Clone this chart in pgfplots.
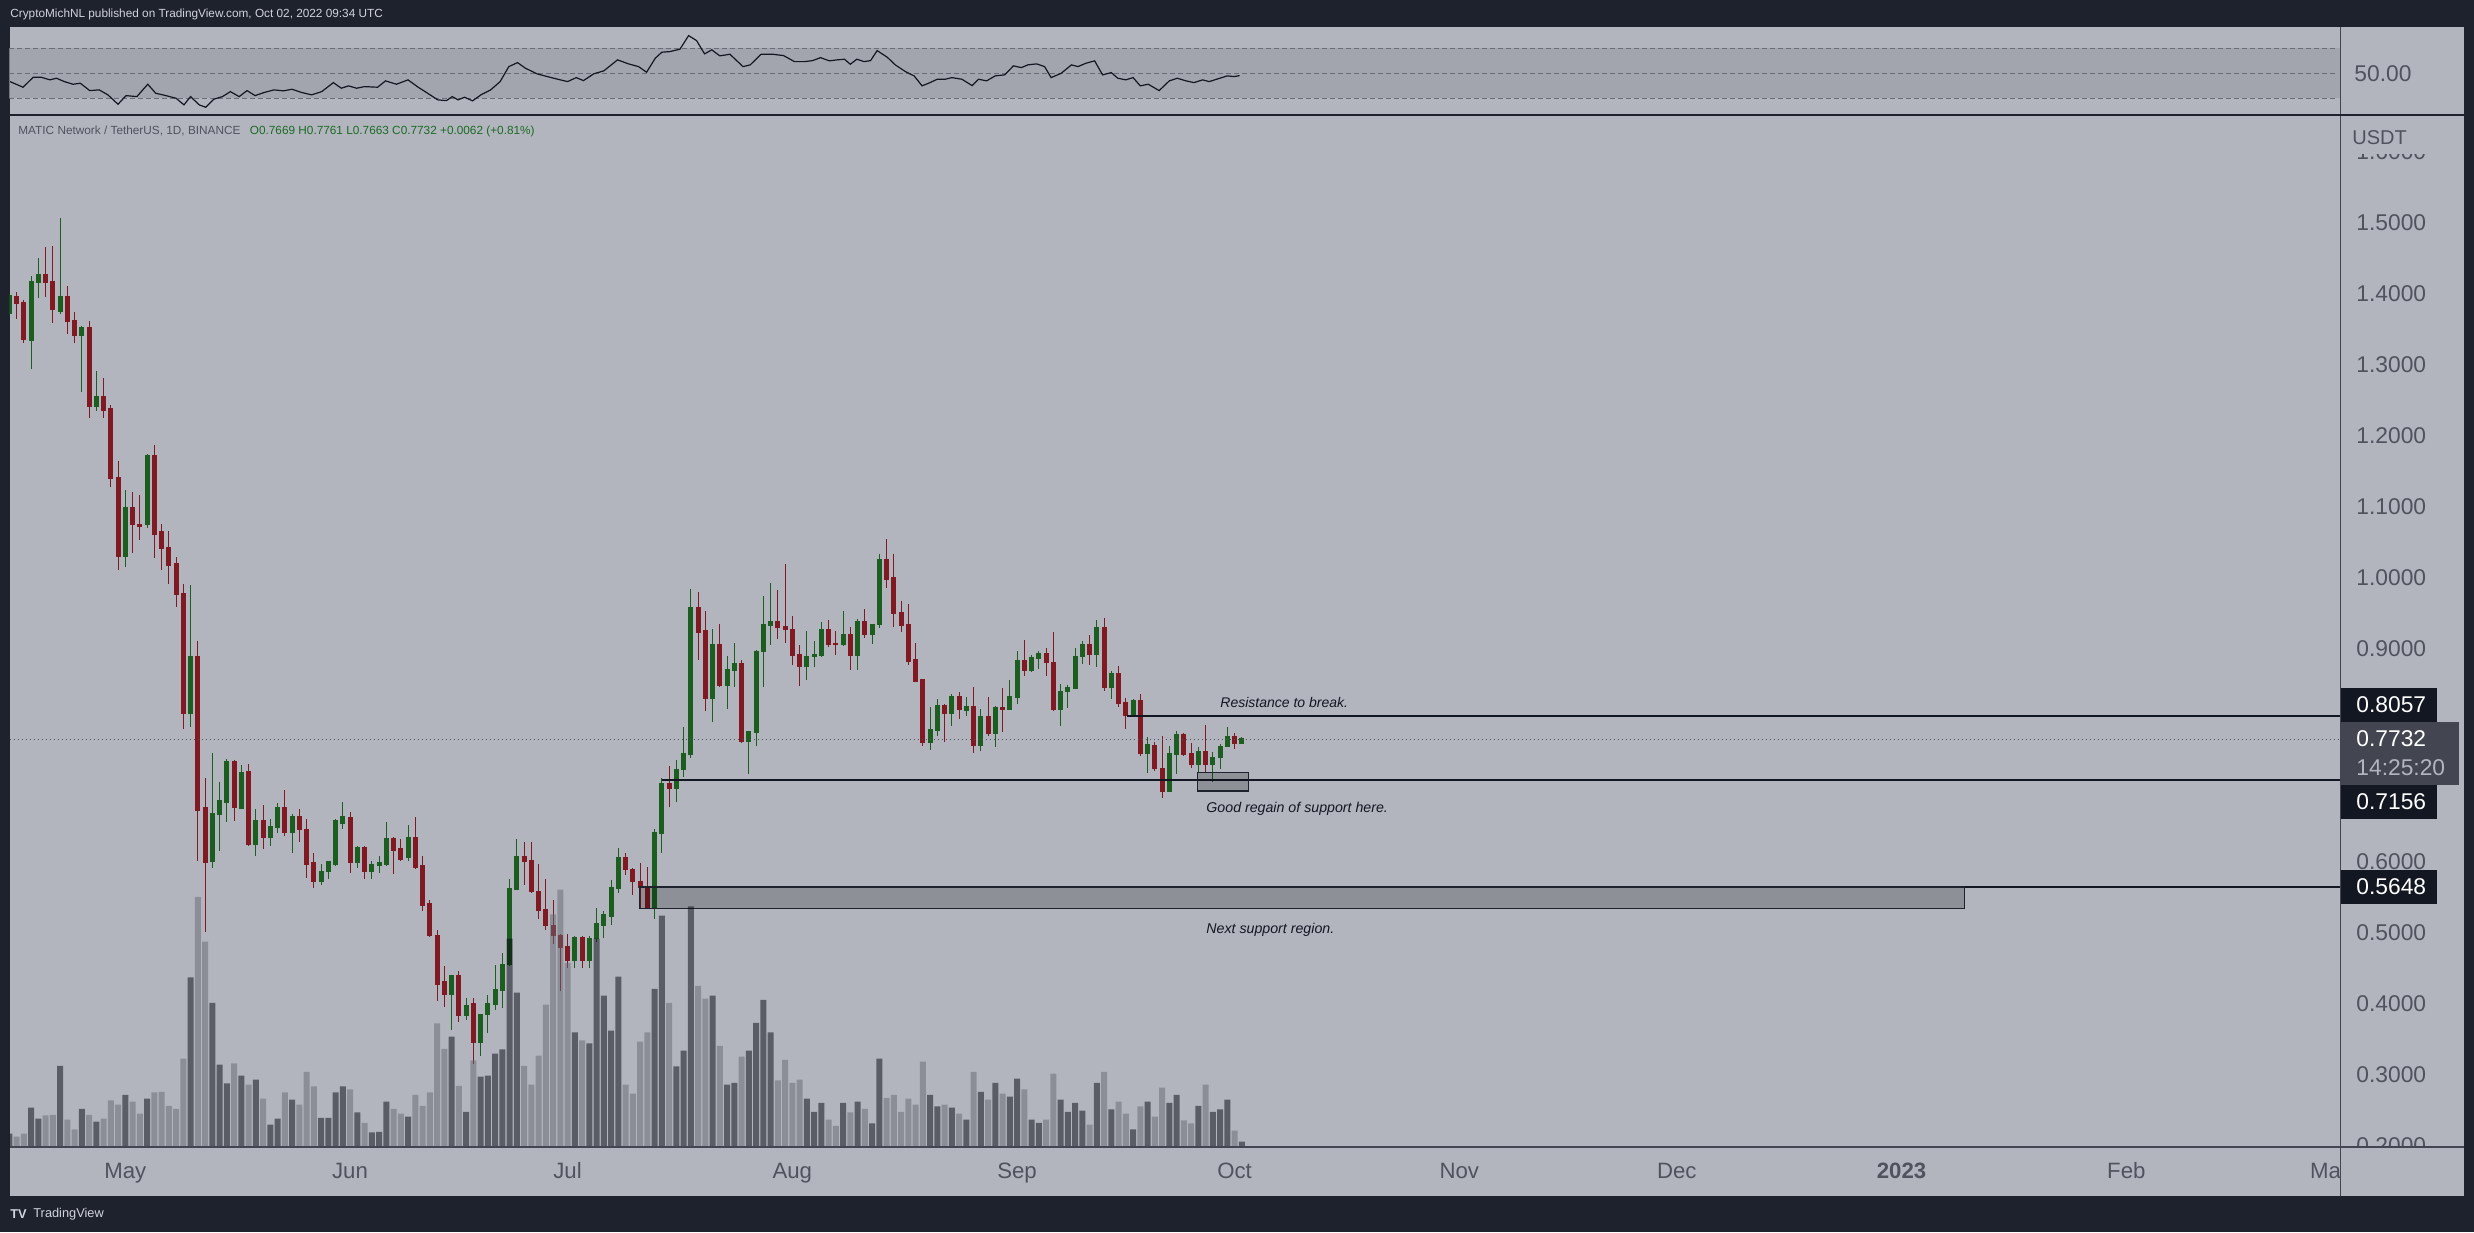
\documentclass[border=0pt]{standalone}
\usepackage{pgfplots}
\pgfplotsset{compat=1.18}
\usepackage{pgfplotstable}
\usepackage{fontspec}
\setmainfont{Liberation Sans}
\definecolor{frame}{HTML}{1E222D}
\definecolor{bg}{HTML}{B2B5BE}
\definecolor{band}{HTML}{A2A5AE}
\definecolor{cgreen}{HTML}{1B5E20}
\definecolor{cred}{HTML}{801922}
\definecolor{voldk}{HTML}{04070F}
\definecolor{vollt}{HTML}{666972}
\definecolor{axtext}{HTML}{50535E}
\definecolor{sep}{HTML}{434651}
\definecolor{ink}{HTML}{131722}
\definecolor{hdr}{HTML}{D1D4DC}
\definecolor{lgreen}{HTML}{1B6B24}
\definecolor{dashc}{HTML}{6A6D78}

\pgfplotsset{/pgf/number format/assume math mode=true}

\pgfplotstableread{
i o h l c v
0 1.373 1.400 1.371 1.398 22
1 1.397 1.403 1.365 1.387 17
2 1.388 1.391 1.331 1.336 22
3 1.334 1.426 1.294 1.417 65
4 1.416 1.450 1.394 1.427 47
5 1.427 1.466 1.396 1.416 52
6 1.417 1.468 1.359 1.378 53
7 1.375 1.507 1.372 1.397 134
8 1.397 1.411 1.343 1.362 45
9 1.362 1.375 1.331 1.342 29
10 1.342 1.355 1.262 1.353 63
11 1.353 1.362 1.226 1.242 53
12 1.242 1.292 1.235 1.256 42
13 1.256 1.281 1.226 1.236 47
14 1.238 1.244 1.128 1.140 77
15 1.141 1.165 1.011 1.031 70
16 1.031 1.124 1.015 1.099 86
17 1.099 1.121 1.035 1.075 75
18 1.075 1.117 1.053 1.073 55
19 1.075 1.174 1.071 1.173 80
20 1.173 1.188 1.028 1.062 90
21 1.065 1.076 1.011 1.041 91
22 1.043 1.066 0.991 1.017 68
23 1.020 1.030 0.959 0.977 63
24 0.978 0.991 0.788 0.809 146
25 0.809 0.990 0.790 0.890 280
26 0.890 0.911 0.602 0.673 413
27 0.676 0.719 0.502 0.599 339
28 0.601 0.753 0.591 0.668 238
29 0.667 0.712 0.616 0.686 136
30 0.684 0.745 0.656 0.742 105
31 0.742 0.743 0.658 0.677 138
32 0.676 0.736 0.675 0.726 118
33 0.728 0.738 0.623 0.625 103
34 0.625 0.675 0.609 0.659 111
35 0.659 0.680 0.618 0.634 80
36 0.634 0.660 0.622 0.650 37
37 0.649 0.683 0.641 0.676 47
38 0.676 0.702 0.637 0.641 90
39 0.641 0.668 0.613 0.664 78
40 0.664 0.675 0.628 0.646 70
41 0.646 0.660 0.577 0.597 124
42 0.599 0.612 0.564 0.573 100
43 0.573 0.597 0.567 0.587 48
44 0.587 0.602 0.576 0.600 48
45 0.597 0.660 0.595 0.658 90
46 0.655 0.684 0.646 0.664 100
47 0.662 0.671 0.584 0.599 95
48 0.599 0.623 0.591 0.620 57
49 0.620 0.622 0.576 0.587 40
50 0.587 0.602 0.576 0.596 24
51 0.595 0.608 0.584 0.599 25
52 0.597 0.657 0.595 0.633 75
53 0.633 0.635 0.583 0.616 63
54 0.619 0.633 0.602 0.604 55
55 0.606 0.652 0.602 0.634 50
56 0.634 0.664 0.590 0.593 86
57 0.595 0.608 0.531 0.539 68
58 0.541 0.547 0.495 0.496 90
59 0.496 0.504 0.404 0.428 204
60 0.431 0.454 0.396 0.414 162
61 0.414 0.441 0.364 0.440 182
62 0.440 0.447 0.375 0.384 101
63 0.384 0.408 0.378 0.398 58
64 0.400 0.408 0.316 0.346 143
65 0.346 0.385 0.327 0.385 116
66 0.385 0.412 0.359 0.400 118
67 0.399 0.455 0.392 0.420 154
68 0.419 0.472 0.395 0.455 161
69 0.456 0.576 0.454 0.563 344
70 0.562 0.632 0.561 0.608 255
71 0.608 0.628 0.567 0.601 134
72 0.602 0.628 0.557 0.559 103
73 0.559 0.597 0.520 0.532 151
74 0.533 0.576 0.504 0.511 235
75 0.511 0.546 0.484 0.496 384
76 0.497 0.498 0.419 0.479 425
77 0.481 0.499 0.450 0.461 304
78 0.461 0.496 0.450 0.494 189
79 0.494 0.496 0.450 0.461 176
80 0.461 0.496 0.451 0.492 171
81 0.492 0.535 0.487 0.513 344
82 0.511 0.531 0.493 0.526 250
83 0.524 0.574 0.511 0.564 192
84 0.563 0.620 0.556 0.606 281
85 0.606 0.612 0.582 0.589 103
86 0.590 0.591 0.553 0.572 88
87 0.572 0.599 0.534 0.564 174
88 0.565 0.593 0.535 0.536 189
89 0.535 0.646 0.520 0.641 261
90 0.640 0.718 0.613 0.710 382
91 0.710 0.735 0.677 0.703 238
92 0.703 0.744 0.684 0.730 133
93 0.730 0.790 0.720 0.753 159
94 0.752 0.984 0.746 0.959 397
95 0.959 0.980 0.884 0.924 266
96 0.926 0.953 0.812 0.830 245
97 0.830 0.928 0.797 0.906 250
98 0.906 0.935 0.846 0.849 167
99 0.849 0.890 0.815 0.871 103
100 0.870 0.909 0.846 0.879 106
101 0.879 0.885 0.768 0.770 149
102 0.770 0.785 0.724 0.784 159
103 0.782 0.898 0.763 0.897 205
104 0.896 0.975 0.846 0.934 243
105 0.933 0.993 0.905 0.938 189
106 0.938 0.983 0.914 0.930 110
107 0.931 1.020 0.909 0.927 144
108 0.928 0.946 0.878 0.891 106
109 0.892 0.905 0.848 0.875 111
110 0.875 0.926 0.857 0.890 80
111 0.889 0.911 0.875 0.892 58
112 0.891 0.938 0.889 0.928 73
113 0.928 0.941 0.903 0.907 45
114 0.908 0.926 0.892 0.906 35
115 0.906 0.953 0.904 0.921 73
116 0.921 0.931 0.870 0.891 57
117 0.891 0.942 0.871 0.938 75
118 0.938 0.957 0.915 0.920 63
119 0.920 0.935 0.907 0.934 39
120 0.934 1.034 0.930 1.026 146
121 1.026 1.055 0.986 0.998 81
122 1.000 1.034 0.931 0.950 86
123 0.951 0.968 0.924 0.933 58
124 0.934 0.964 0.877 0.883 80
125 0.885 0.909 0.854 0.855 70
126 0.857 0.858 0.764 0.769 141
127 0.769 0.818 0.758 0.786 86
128 0.785 0.830 0.778 0.821 67
129 0.821 0.822 0.769 0.809 70
130 0.809 0.837 0.792 0.833 65
131 0.833 0.839 0.802 0.815 55
132 0.814 0.833 0.805 0.819 45
133 0.819 0.846 0.754 0.764 124
134 0.764 0.816 0.756 0.805 91
135 0.805 0.833 0.777 0.781 78
136 0.781 0.820 0.762 0.818 106
137 0.818 0.845 0.783 0.815 88
138 0.815 0.856 0.814 0.833 83
139 0.832 0.897 0.822 0.884 113
140 0.884 0.913 0.862 0.870 95
141 0.870 0.891 0.867 0.888 45
142 0.887 0.897 0.872 0.894 40
143 0.894 0.901 0.862 0.881 45
144 0.881 0.924 0.813 0.815 121
145 0.815 0.850 0.792 0.840 78
146 0.840 0.849 0.817 0.846 58
147 0.845 0.901 0.843 0.890 73
148 0.890 0.911 0.879 0.906 60
149 0.906 0.919 0.878 0.892 37
150 0.892 0.941 0.874 0.930 106
151 0.930 0.944 0.841 0.846 124
152 0.846 0.869 0.830 0.866 62
153 0.866 0.876 0.819 0.824 75
154 0.825 0.831 0.788 0.806 55
155 0.805 0.830 0.804 0.827 29
156 0.827 0.836 0.749 0.753 67
157 0.753 0.776 0.726 0.765 75
158 0.764 0.769 0.728 0.732 50
159 0.732 0.777 0.690 0.700 98
160 0.699 0.764 0.698 0.753 73
161 0.751 0.785 0.724 0.779 86
162 0.779 0.782 0.749 0.751 44
163 0.753 0.767 0.732 0.738 39
164 0.738 0.762 0.727 0.755 68
165 0.755 0.793 0.727 0.738 103
166 0.738 0.755 0.713 0.747 58
167 0.747 0.766 0.731 0.763 62
168 0.763 0.790 0.762 0.777 78
169 0.777 0.781 0.759 0.767 27
170 0.7669 0.7761 0.7663 0.7732 9
}\candles

\pgfplotstableread{
x r
0.1 43.3
1.9 38.8
3.3 46.8
4.4 46.8
5.6 44.7
6.5 46.0
7.6 43.3
8.8 41.2
9.8 42.0
11.1 36.1
12.4 36.7
13.6 32.7
15.0 25.2
16.1 32.1
17.6 31.3
19.1 41.2
20.2 34.0
21.6 32.1
23.0 30.0
24.1 24.7
25.0 31.3
26.2 24.7
27.1 22.8
28.2 29.2
29.4 31.3
30.5 35.3
31.7 31.3
32.8 36.1
33.9 32.1
35.1 34.5
36.5 36.7
37.8 35.9
39.0 37.2
40.4 34.5
41.7 32.7
43.1 35.3
44.7 42.5
45.8 38.0
46.8 39.9
47.9 38.0
49.0 39.3
50.8 38.8
51.9 43.9
53.4 41.2
55.0 44.7
56.4 38.8
57.7 34.0
59.1 28.7
60.3 28.1
61.1 31.3
61.9 28.7
62.8 30.8
63.9 27.9
65.1 32.9
66.4 36.7
67.7 43.3
68.9 55.3
70.1 58.5
71.2 54.0
72.8 49.5
75.1 46.0
77.0 43.3
78.2 46.5
79.2 44.1
80.6 49.5
82.0 51.9
83.9 60.7
85.4 57.5
86.8 55.3
87.9 50.8
89.1 62.0
90.0 66.8
91.1 67.3
92.5 69.2
93.7 80.1
94.8 76.1
95.9 65.5
96.9 68.7
98.0 63.9
99.4 65.2
101.2 55.3
102.2 56.7
103.7 65.2
105.3 65.2
106.8 64.1
108.3 59.3
109.7 59.3
110.8 60.1
111.9 62.5
113.1 59.9
114.2 60.7
115.2 61.2
116.0 57.2
116.9 61.2
117.9 59.3
118.8 60.1
119.7 68.1
121.1 62.8
122.2 56.7
123.6 51.3
124.8 47.9
125.9 39.9
126.8 42.0
128.0 45.2
129.1 45.2
130.0 46.5
131.4 45.2
132.8 40.1
133.7 45.2
134.8 43.9
136.0 47.9
137.3 48.7
138.5 55.9
139.6 54.5
140.5 56.7
141.7 57.5
142.8 55.3
143.7 46.5
145.1 50.0
146.5 56.7
147.4 55.3
148.5 58.0
149.7 59.9
150.8 48.7
152.0 50.5
152.9 46.0
154.0 44.7
155.0 46.5
156.0 39.9
157.1 41.2
158.6 36.1
160.0 43.9
161.1 46.0
162.3 43.9
163.4 42.5
164.6 44.7
165.5 43.3
166.8 45.7
168.0 47.9
168.9 47.3
169.7 48.1
}\rsi

\begin{document}
\begin{tikzpicture}
% frame and panel backgrounds
\fill[frame] (0pt,0pt) rectangle (1237pt,616pt);
\fill[bg] (4.75pt,18pt) rectangle (1232pt,602.5pt);

% ---------- RSI panel ----------
\begin{axis}[
  at={(4.75pt,558.5pt)}, anchor=south west,
  width=1165.5pt, height=44pt, scale only axis,
  xmin=0.03, xmax=321.54, ymin=16.6, ymax=87.0,
  hide axis,
]
\fill[band] (axis cs:0.03,30) rectangle (axis cs:321.54,70);
\draw[dashc, line width=0.5pt, dash pattern=on 2.5pt off 1.5pt] (axis cs:0.03,70) -- (axis cs:320.8,70);
\draw[dashc, line width=0.5pt, dash pattern=on 2.5pt off 1.5pt] (axis cs:0.03,50) -- (axis cs:320.8,50);
\draw[dashc, line width=0.5pt, dash pattern=on 2.5pt off 1.5pt] (axis cs:0.03,30) -- (axis cs:320.8,30);
\addplot[ink, line width=0.6pt, mark=none] table[x=x, y=r] \rsi;
\end{axis}

% ---------- main price panel ----------
\begin{axis}[
  at={(4.75pt,42.5pt)}, anchor=south west,
  width=1165.5pt, height=515.5pt, scale only axis,
  xmin=0.03, xmax=321.54, ymin=0.1986, ymax=1.6507,
  axis line style={draw=none},
  tick style={draw=none}, major tick length=0pt,
  xtick={16,47,77,108,139,169,200,230,261,292,320},
  xticklabels={May,Jun,Jul,Aug,Sep,Oct,Nov,Dec,\textbf{2023},Feb,Mar},
  x tick label style={anchor=base, yshift=-15.9pt, inner sep=0pt, font=\fontsize{11.1}{13}\selectfont, text=axtext},
  ytick={0.2,0.3,0.4,0.5,0.6,0.9,1.0,1.1,1.2,1.3,1.4,1.5,1.6},
  yticklabel pos=right,
  yticklabel={\pgfmathprintnumber[fixed,fixed zerofill,precision=4]{\tick}},
  y tick label style={anchor=west, inner sep=0pt, xshift=7.75pt, font=\fontsize{11.4}{13}\selectfont, text=axtext},
]
% wicks (rising candles green, falling red; the other kind is moved off-axis)
\addplot[draw=none, mark=none, forget plot,
  error bars/.cd, y dir=both, y explicit, error mark=none,
  error bar style={draw=cgreen, line width=0.5pt}]
  table[x=i, y expr={\thisrow{c}>=\thisrow{o} ? (\thisrow{h}+\thisrow{l})/2 : -0.5}, y error expr={(\thisrow{h}-\thisrow{l})/2}] \candles;
\addplot[draw=none, mark=none, forget plot,
  error bars/.cd, y dir=both, y explicit, error mark=none,
  error bar style={draw=cred, line width=0.5pt}]
  table[x=i, y expr={\thisrow{c}<\thisrow{o} ? (\thisrow{h}+\thisrow{l})/2 : -0.5}, y error expr={(\thisrow{h}-\thisrow{l})/2}] \candles;
% bodies
\addplot[draw=none, mark=none, forget plot,
  error bars/.cd, y dir=both, y explicit, error mark=none,
  error bar style={draw=cgreen, line width=2.5pt}]
  table[x=i, y expr={\thisrow{c}>=\thisrow{o} ? (\thisrow{o}+\thisrow{c})/2 : -0.5}, y error expr={abs(\thisrow{c}-\thisrow{o})/2+0.0008}] \candles;
\addplot[draw=none, mark=none, forget plot,
  error bars/.cd, y dir=both, y explicit, error mark=none,
  error bar style={draw=cred, line width=2.5pt}]
  table[x=i, y expr={\thisrow{c}<\thisrow{o} ? (\thisrow{o}+\thisrow{c})/2 : -0.5}, y error expr={abs(\thisrow{c}-\thisrow{o})/2+0.0008}] \candles;
% drawings
\draw[ink, line width=0.6pt] (axis cs:154.1,0.8057) -- (axis cs:321.54,0.8057);
\draw[ink, line width=0.6pt] (axis cs:90,0.7156) -- (axis cs:321.54,0.7156);
\draw[draw=frame, line width=0.75pt, fill=black, fill opacity=0.2] (axis cs:86.9,0.5648) rectangle (axis cs:269.7,0.5343);
\draw[ink, line width=0.6pt] (axis cs:269.7,0.5648) -- (axis cs:321.54,0.5648);
\draw[draw=frame, line width=0.75pt, fill=black, fill opacity=0.2] (axis cs:163.9,0.7263) rectangle (axis cs:170.9,0.6998);
\draw[axtext, line width=0.5pt, dash pattern=on 0.5pt off 1.5pt] (axis cs:0.03,0.7732) -- (axis cs:321.54,0.7732);
\end{axis}

% ---------- volume overlay ----------
\begin{axis}[
  at={(4.75pt,42.5pt)}, anchor=south west,
  width=1165.5pt, height=515.5pt, scale only axis,
  xmin=0.03, xmax=321.54, ymin=0, ymax=1701.7,
  hide axis,
]
\addplot[ybar, bar width=3pt, bar shift=0pt, draw=none, fill=voldk, fill opacity=0.5]
  table[x=i, y expr={\thisrow{c}>=\thisrow{o} ? \thisrow{v} : 0}] \candles;
\addplot[ybar, bar width=3pt, bar shift=0pt, draw=none, fill=vollt, fill opacity=0.5]
  table[x=i, y expr={\thisrow{c}<\thisrow{o} ? \thisrow{v} : 0}] \candles;
\end{axis}

% price column cover in date row and under the unit label, separators
\fill[bg] (1170.6pt,18pt) rectangle (1232pt,42.3pt);
\fill[bg] (1170.6pt,539pt) rectangle (1232pt,558pt);
\draw[sep, line width=0.6pt] (1170.4pt,18pt) -- (1170.4pt,602.5pt);
\draw[sep, line width=0.6pt] (4.75pt,42.5pt) -- (1232pt,42.5pt);
\draw[frame, line width=1pt] (4.75pt,558.25pt) -- (1232pt,558.25pt);

% axis texts
\node[anchor=west, inner sep=0pt, text=axtext, font=\fontsize{10}{12}\selectfont] at (1176pt,547pt) {USDT};
\node[anchor=west, inner sep=0pt, text=axtext, font=\fontsize{11.4}{13}\selectfont] at (1177pt,579.4pt) {50.00};

% price label boxes
\fill[ink] (1170.6pt,255pt) rectangle (1218.5pt,272pt);
\node[anchor=west, inner sep=0pt, text=white, font=\fontsize{11.4}{13}\selectfont] at (1178pt,263.5pt) {0.8057};
\fill[sep] (1170.6pt,223.5pt) rectangle (1229.5pt,255pt);
\node[anchor=west, inner sep=0pt, text=white, font=\fontsize{11.4}{13}\selectfont] at (1178pt,246.5pt) {0.7732};
\node[anchor=west, inner sep=0pt, text=bg, font=\fontsize{11.4}{13}\selectfont] at (1178pt,232pt) {14:25:20};
\fill[ink] (1170.6pt,206.5pt) rectangle (1218.5pt,223.5pt);
\node[anchor=west, inner sep=0pt, text=white, font=\fontsize{11.4}{13}\selectfont] at (1178pt,215pt) {0.7156};
\fill[ink] (1170.6pt,164pt) rectangle (1218.5pt,181pt);
\node[anchor=west, inner sep=0pt, text=white, font=\fontsize{11.4}{13}\selectfont] at (1178pt,172.5pt) {0.5648};

% annotations
\node[anchor=west, inner sep=0pt, text=ink, font=\itshape\fontsize{7}{8}\selectfont] at (610pt,264.5pt) {Resistance to break.};
\node[anchor=west, inner sep=0pt, text=ink, font=\itshape\fontsize{7.1}{8}\selectfont] at (603pt,211.5pt) {Good regain of support here.};
\node[anchor=west, inner sep=0pt, text=ink, font=\itshape\fontsize{7.1}{8}\selectfont] at (603pt,151pt) {Next support region.};

% header / legend / footer
\node[anchor=west, inner sep=0pt, text=hdr, font=\fontsize{5.9}{7}\selectfont] at (5pt,608.8pt) {CryptoMichNL published on TradingView.com, Oct 02, 2022 09:34 UTC};
\node[anchor=west, inner sep=0pt, font=\fontsize{5.9}{7}\selectfont] at (9pt,550.5pt) {\textcolor{axtext}{MATIC Network / TetherUS, 1D, BINANCE}\hspace{0.8em}\textcolor{lgreen}{O0.7669 H0.7761 L0.7663 C0.7732 +0.0062 (+0.81\%)}};
\node[anchor=west, inner sep=0pt, text=hdr, font=\bfseries\fontsize{6.4}{7}\selectfont] at (5pt,9pt) {TV};
\node[anchor=west, inner sep=0pt, text=hdr, font=\fontsize{6.4}{7}\selectfont] at (16.5pt,9pt) {TradingView};

\pgfresetboundingbox
\useasboundingbox (0pt,0pt) rectangle (1237pt,616pt);
\end{tikzpicture}
\end{document}
